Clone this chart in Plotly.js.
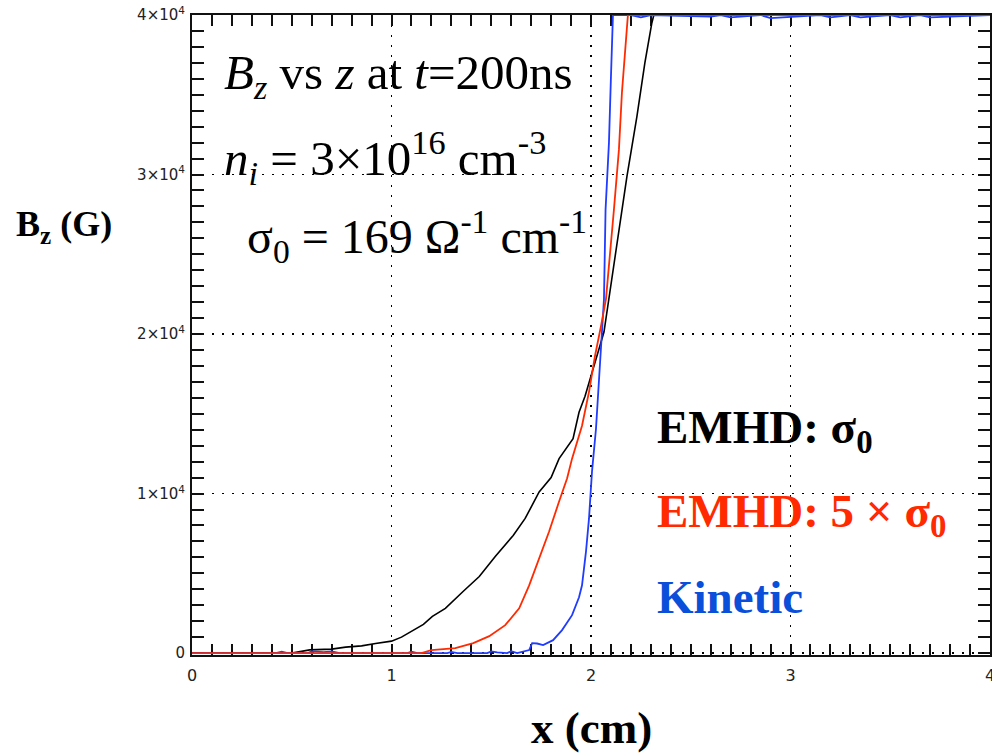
<!DOCTYPE html>
<html>
<head>
<meta charset="utf-8">
<script src="https://cdn.plot.ly/plotly-3.0.1.min.js"></script>
<style>
  html, body { margin: 0; padding: 0; background: #fff; }
  #plot { width: 992px; height: 753px; }
</style>
</head>
<body>
<div id="plot"></div>
<script>
// Bz profiles along x (cm) at t = 200 ns, in gauss
const xEmhd = [0, 0.5, 0.59, 0.7, 0.77, 0.85, 0.92, 1.0, 1.05, 1.105, 1.16, 1.205, 1.27, 1.36, 1.44, 1.52, 1.61, 1.67, 1.74, 1.80, 1.84, 1.91, 1.94, 1.97, 2.0, 2.04, 2.065, 2.09, 2.13, 2.18, 2.23, 2.27, 2.305, 2.315, 4.0];
const bEmhd = [0, 0, 200, 250, 375, 450, 600, 750, 1000, 1375, 1800, 2300, 2800, 3875, 4800, 6060, 7375, 8440, 10100, 11000, 12190, 13440, 15100, 16100, 17300, 19060, 20125, 22190, 25750, 29875, 33625, 37000, 39500, 40000, 40000];

const xEmhd5 = [0, 1.15, 1.2, 1.32, 1.41, 1.49, 1.57, 1.64, 1.69, 1.74, 1.79, 1.84, 1.88, 1.905, 1.955, 1.99, 2.02, 2.05, 2.075, 2.115, 2.14, 2.155, 2.175, 2.185, 4.0];
const bEmhd5 = [0, 0, 190, 310, 625, 1060, 1750, 2810, 4250, 5940, 7625, 9500, 10940, 12190, 14250, 16375, 18625, 20500, 22190, 27810, 31560, 35125, 38250, 40000, 40000];

const xKinetic = [0, 0.42, 0.45, 0.48, 0.58, 0.6, 0.66, 0.7, 0.74, 1.08, 1.1, 1.13, 1.28, 1.3, 1.33, 1.48, 1.5, 1.53, 1.58, 1.6, 1.63, 1.69, 1.705, 1.73, 1.76, 1.81, 1.855, 1.905, 1.94, 1.955, 1.975, 1.99, 2.005, 2.025, 2.04, 2.055, 2.065, 2.073, 2.09, 2.1, 2.107, 2.11, 2.2, 2.25, 2.3, 2.6, 2.65, 2.7, 2.85, 2.9, 3.15, 3.2, 3.3, 3.35, 3.5, 3.55, 3.65, 3.7, 4.0];
const bKinetic = [0, 0, 90, 0, 0, 110, 60, 100, 0, 0, 90, 0, 0, 70, 0, 0, 110, 40, 0, 120, 0, 190, 625, 600, 500, 810, 1440, 2375, 3500, 4250, 6375, 8440, 11375, 14060, 17100, 20125, 22190, 27800, 32000, 36125, 39250, 40000, 40000, 39850, 40000, 39900, 40000, 39850, 40000, 39800, 40000, 39850, 40000, 39850, 40000, 39850, 40000, 39850, 40000];

const xTickVals = [0, 1, 2, 3, 4];
const xTickText = ['0', '1', '2', '3', '4'];
const yTickVals = [0, 10000, 20000, 30000, 40000];
const yTickText = ['0', '1×10<sup>4</sup>', '2×10<sup>4</sup>', '3×10<sup>4</sup>', '4×10<sup>4</sup>'];

const RED = '#ff2a00';
const BLUE = '#1f3cff';

const traces = [
  { x: xEmhd, y: bEmhd, type: 'scatter', mode: 'lines', name: 'EMHD: σ0',
    line: { color: '#000000', width: 1.6 } },
  { x: xKinetic, y: bKinetic, type: 'scatter', mode: 'lines', name: 'Kinetic',
    line: { color: BLUE, width: 1.8 } },
  { x: xEmhd5, y: bEmhd5, type: 'scatter', mode: 'lines', name: 'EMHD: 5 × σ0',
    line: { color: RED, width: 1.8 } }
];

const serif = 'Liberation Serif, Times New Roman, serif';
const sans = 'DejaVu Sans, Arial, sans-serif';

// paper coordinates from pixel positions inside the plot frame
const PL = 192, PW = 798, PT = 15, PH = 640;
const px = v => (v - PL) / PW;
const py = v => (PT + PH - v) / PH;

const note = (text, xp, yp, size, color, bold) => ({
  xref: 'paper', yref: 'paper', x: px(xp), y: py(yp),
  xanchor: 'left', yanchor: 'middle', showarrow: false,
  text: bold ? '<b>' + text + '</b>' : text,
  font: { family: serif, size: size, color: color }
});

const layout = {
  width: 992, height: 753,
  margin: { l: 192, r: 2, t: 15, b: 98 },
  paper_bgcolor: '#ffffff', plot_bgcolor: '#ffffff',
  font: { family: sans, size: 16, color: '#222' },
  showlegend: false,
  xaxis: {
    range: [0, 4], tickmode: 'array', tickvals: xTickVals, ticktext: xTickText,
    ticks: 'inside', ticklen: 11, tickwidth: 2, tickcolor: '#111',
    minor: { dtick: 0.1, ticks: 'inside', ticklen: 11, tickwidth: 2, tickcolor: '#111', showgrid: false },
    showline: true, linecolor: '#111', linewidth: 2, mirror: 'ticks',
    showgrid: true, gridcolor: '#000', gridwidth: 1.5, griddash: '2px,8px',
    zeroline: false, tickfont: { family: sans, size: 16, color: '#222' },
    ticklabelstandoff: 5, ticklabeloverflow: 'allow',
    layer: 'below traces'
  },
  yaxis: {
    range: [-120, 40000], tickmode: 'array', tickvals: yTickVals, ticktext: yTickText,
    ticks: 'inside', ticklen: 12, tickwidth: 2, tickcolor: '#111',
    minor: { dtick: 1000, ticks: 'inside', ticklen: 12, tickwidth: 2, tickcolor: '#111', showgrid: false },
    showline: true, linecolor: '#111', linewidth: 2, mirror: 'ticks',
    showgrid: true, gridcolor: '#000', gridwidth: 1.5, griddash: '2px,8px',
    zeroline: false, tickfont: { family: sans, size: 15, color: '#222' },
    ticklabelstandoff: 2, ticklabeloverflow: 'allow',
    layer: 'below traces'
  },
  shapes: [
    { type: 'rect', xref: 'paper', yref: 'paper', x0: px(208), x1: px(598), y0: py(112), y1: py(32),
      fillcolor: '#ffffff', line: { width: 0 }, layer: 'between' }
  ],
  annotations: [
    note('<i>B</i><sub><i>z</i></sub> vs <i>z</i> at <i>t</i>=200ns', 222, 75, 49, '#000', false),
    note('<i>n</i><sub><i>i</i></sub> = 3×10<sup>16</sup> cm<sup>-3</sup>', 222, 158, 49, '#000', false),
    note('σ<sub>0</sub> = 169 Ω<sup>-1</sup> cm<sup>-1</sup>', 245, 236, 48, '#000', false),
    note('EMHD: σ<sub>0</sub>', 655, 430, 47, '#000', true),
    note('EMHD: 5 × σ<sub>0</sub>', 655, 514, 47, RED, true),
    note('Kinetic', 655, 597, 47, '#0a4fd9', true),
    { xref: 'paper', yref: 'paper', x: px(14), y: py(226), xanchor: 'left', yanchor: 'middle',
      showarrow: false, text: '<b>B<sub>z</sub> (G)</b>', font: { family: serif, size: 36, color: '#000' } },
    { xref: 'paper', yref: 'paper', x: px(591), y: py(728), xanchor: 'center', yanchor: 'middle',
      showarrow: false, text: '<b>x (cm)</b>', font: { family: serif, size: 45, color: '#000' } }
  ]
};

Plotly.newPlot('plot', traces, layout, { staticPlot: true, displayModeBar: false });
</script>
</body>
</html>
